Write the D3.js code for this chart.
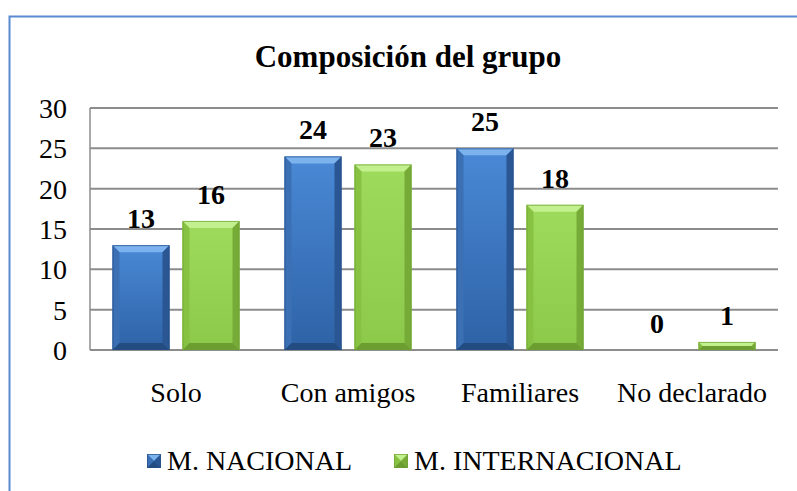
<!DOCTYPE html>
<html><head><meta charset="utf-8">
<script src="https://cdn.jsdelivr.net/npm/d3@7"></script>
</head><body style="margin:0">
<svg id="chart" width="797" height="491"></svg>
<script>
const title = "Composición del grupo";
const categories = ["Solo", "Con amigos", "Familiares", "No declarado"];
const seriesNames = ["M. NACIONAL", "M. INTERNACIONAL"];
const nacional = [13, 24, 25, 0];
const internacional = [16, 23, 18, 1];
const yTicks = [0, 5, 10, 15, 20, 25, 30];

const palettes = [
  {top:"#4a89d6", bot:"#2e62a6", tb:"#7cb3ef", lb:"#3b70b5", rb:"#2a5793", bb:"#234c80", stroke:"#264f85"},
  {top:"#9edb5c", bot:"#8cc94b", tb:"#c3f08e", lb:"#88c243", rb:"#76ab37", bb:"#6c9d31", stroke:"#6f9f35"}
];

const svg = d3.select("#chart");
function txt(sel, size, bold){
  return sel.style("font-family", "Tinos").style("font-size", size+"px")
    .style("font-weight", bold ? "700" : "400").attr("fill","#000");
}
svg.append("rect").attr("width",797).attr("height",491).attr("fill","#fff");
svg.append("rect").attr("x",9.5).attr("y",16.5).attr("width",900).attr("height",700)
  .attr("fill","none").attr("stroke","#5a8ad0").attr("stroke-width",2);

const defs = svg.append("defs");
palettes.forEach((p,i)=>{
  const g = defs.append("linearGradient").attr("id","g"+i).attr("x1",0).attr("y1",0).attr("x2",0).attr("y2",1);
  g.append("stop").attr("offset","0%").attr("stop-color",p.top);
  g.append("stop").attr("offset","100%").attr("stop-color",p.bot);
});

const x0 = d3.scaleBand().domain(categories).range([90, 778]).paddingInner(0).paddingOuter(0);
const x1 = d3.scaleBand().domain(seriesNames).range([22.5, x0.bandwidth()-22.5]).paddingInner(0.186).paddingOuter(0);
const y = d3.scaleLinear().domain([0, 30]).range([350, 108]);

svg.append("g").selectAll("line").data(yTicks).join("line")
  .attr("x1", 90).attr("x2", 778).attr("y1", d=>y(d)).attr("y2", d=>y(d))
  .attr("stroke","#8c8c8c").attr("stroke-width",2);
svg.append("line").attr("x1",90).attr("x2",90).attr("y1",y(30)).attr("y2",y(0))
  .attr("stroke","#8c8c8c").attr("stroke-width",1.5);

function bevelBar(g, bx, by, bw, bh, p, i){
  const xa=bx, xb=bx+bw, ya=by, yb=by+bh;
  const b=Math.min(7, bh/2, bw/2);
  g.append("rect").attr("x",xa).attr("y",ya).attr("width",bw).attr("height",bh).attr("fill","url(#g"+i+")");
  const poly=(pts,c)=>g.append("polygon").attr("points",pts.map(q=>q.join(",")).join(" ")).attr("fill",c);
  poly([[xa,ya],[xb,ya],[xb-b,ya+b],[xa+b,ya+b]], p.tb);
  poly([[xa,ya],[xa+b,ya+b],[xa+b,yb-b],[xa,yb]], p.lb);
  poly([[xb,ya],[xb-b,ya+b],[xb-b,yb-b],[xb,yb]], p.rb);
  poly([[xa,yb],[xb,yb],[xb-b,yb-b],[xa+b,yb-b]], p.bb);
  g.append("rect").attr("x",xa+0.5).attr("y",ya+0.5).attr("width",Math.max(0,bw-1)).attr("height",Math.max(0,bh-1))
    .attr("fill","none").attr("stroke",p.stroke).attr("stroke-width",1).attr("stroke-opacity",0.7);
}

const seriesData = [nacional, internacional];
const barsG = svg.append("g");
categories.forEach((c,ci)=>{
  seriesNames.forEach((s,si)=>{
    const v = seriesData[si][ci];
    const bx = x0(c)+x1(s), bw = x1.bandwidth();
    if (v>0) bevelBar(barsG, bx, y(v), bw, y(0)-y(v), palettes[si], si);
  });
});

const textG = svg.append("g");
yTicks.forEach(d=>{
  txt(textG.append("text").attr("x", 67).attr("y", y(d)+10).attr("text-anchor","end"), 28, false).text(String(d));
});
categories.forEach((c,ci)=>{
  seriesNames.forEach((s,si)=>{
    const v = seriesData[si][ci];
    const bx = x0(c)+x1(s), bw = x1.bandwidth();
    txt(textG.append("text").attr("x", bx+bw/2).attr("y", y(v)-17).attr("text-anchor","middle"), 28, true).text(String(v));
  });
  txt(textG.append("text").attr("x", x0(c)+x0.bandwidth()/2).attr("y", 402).attr("text-anchor","middle"), 28, false).text(c);
});
txt(textG.append("text").attr("x",408).attr("y",67).attr("text-anchor","middle"), 31, true).text(title);

const legX = [147, 394];
seriesNames.forEach((s,i)=>{
  bevelBar(svg.append("g"), legX[i], 454, 14, 14, palettes[i], i);
  txt(textG.append("text").attr("x", legX[i]+20).attr("y", 470), 28, false).text(s);
});
</script>
</body></html>
